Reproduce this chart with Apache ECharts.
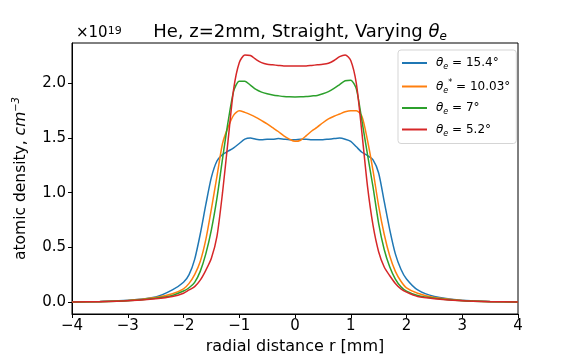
<!DOCTYPE html>
<html>
<head>
<meta charset="utf-8">
<script src="https://cdn.jsdelivr.net/npm/echarts@6/dist/echarts.min.js"></script>
<style>
  html, body { margin: 0; padding: 0; background: #fff; }
  #chart { width: 576px; height: 360px; }
</style>
</head>
<body>
<div id="chart"></div>
<script>
// radial grid (mm) shared by all curves
var radius = [-4, -3.5, -3, -2.5, -2.2, -2.0, -1.9, -1.8, -1.7, -1.6, -1.5, -1.4, -1.3, -1.2, -1.1, -1.0,
  -0.9, -0.8, -0.7, -0.6, -0.5, -0.4, -0.3, -0.2, -0.1, 0, 0.1, 0.2, 0.3, 0.4, 0.5, 0.6, 0.7, 0.8, 0.9,
  1.0, 1.1, 1.2, 1.3, 1.4, 1.5, 1.6, 1.7, 1.8, 1.9, 2.0, 2.2, 2.5, 3, 3.5, 4];

// density in units of 1e19 cm^-3
var theta154 = [0.0, 0.005, 0.015, 0.045, 0.11, 0.18, 0.25, 0.39, 0.62, 0.89, 1.14, 1.29, 1.35, 1.38, 1.41, 1.45,
  1.49, 1.50, 1.49, 1.485, 1.49, 1.49, 1.495, 1.49, 1.485, 1.485, 1.49, 1.49, 1.485, 1.485, 1.485, 1.49, 1.495, 1.50, 1.49,
  1.47, 1.42, 1.37, 1.34, 1.30, 1.18, 0.92, 0.66, 0.44, 0.30, 0.21, 0.11, 0.05, 0.015, 0.005, 0.0];
var theta1003 = [0.0, 0.004, 0.013, 0.04, 0.075, 0.12, 0.17, 0.25, 0.37, 0.57, 0.85, 1.15, 1.45, 1.60, 1.71, 1.75,
  1.735, 1.715, 1.69, 1.66, 1.63, 1.595, 1.56, 1.52, 1.49, 1.47, 1.48, 1.52, 1.565, 1.60, 1.64, 1.675, 1.70, 1.72, 1.74,
  1.75, 1.75, 1.70, 1.48, 1.20, 0.88, 0.62, 0.42, 0.28, 0.19, 0.13, 0.08, 0.04, 0.013, 0.004, 0.0];
var theta7 = [0.0, 0.003, 0.012, 0.035, 0.06, 0.10, 0.13, 0.18, 0.28, 0.44, 0.66, 0.95, 1.31, 1.65, 1.93, 2.02,
  2.02, 1.985, 1.945, 1.92, 1.905, 1.895, 1.887, 1.88, 1.877, 1.876, 1.877, 1.88, 1.885, 1.89, 1.905, 1.925, 1.955, 1.99, 2.025,
  2.03, 1.95, 1.66, 1.35, 1.05, 0.72, 0.48, 0.32, 0.21, 0.14, 0.10, 0.06, 0.035, 0.012, 0.003, 0.0];
var theta52 = [0.0, 0.003, 0.011, 0.03, 0.05, 0.08, 0.11, 0.14, 0.20, 0.29, 0.40, 0.60, 1.00, 1.48, 1.95, 2.19,
  2.26, 2.255, 2.22, 2.19, 2.175, 2.17, 2.165, 2.16, 2.16, 2.16, 2.16, 2.16, 2.165, 2.17, 2.175, 2.185, 2.21, 2.245, 2.26,
  2.21, 2.00, 1.55, 1.06, 0.70, 0.46, 0.32, 0.24, 0.17, 0.12, 0.09, 0.05, 0.03, 0.011, 0.003, 0.0];

var seriesNames = ['t154', 't1003', 't7', 't52'];
var legendLabels = {
  t154: '{i|θ}{sub|e}{n| = 15.4°}',
  t1003: '{i|θ}{sub|e}{sup|*}{n| = 10.03°}',
  t7: '{i|θ}{sub|e}{n| = 7°}',
  t52: '{i|θ}{sub|e}{n| = 5.2°}'
};
var colors = ['#1f77b4', '#ff7f0e', '#2ca02c', '#d62728'];
var yTicks = [0, 0.5, 1.0, 1.5, 2.0];

function pairs(ys) {
  var out = [];
  for (var i = 0; i < radius.length; i++) {
    out.push([radius[i], ys[i]]);
  }
  return out;
}

var allValues = [theta154, theta1003, theta7, theta52];
var series = [];
for (var k = 0; k < seriesNames.length; k++) {
  series.push({
    name: seriesNames[k],
    type: 'line',
    data: pairs(allValues[k]),
    symbol: 'none',
    smooth: 0.25,
    lineStyle: { width: 1.5, color: colors[k] },
    itemStyle: { color: colors[k] }
  });
}

var font = 'DejaVu Sans';
var chart = echarts.init(document.getElementById('chart'));
var option = {
  animation: false,
  color: colors,
  textStyle: { fontFamily: font },
  grid: {
    left: 72, right: 58, top: 43, bottom: 46,
    show: true, borderColor: '#000', borderWidth: 1
  },
  title: [
    {
      text: 'He, z=2mm, Straight, Varying {i|θ}{sub|e}',
      left: 295, top: 16, textAlign: 'center',
      textStyle: {
        fontFamily: font, fontSize: 18, fontWeight: 'normal', color: '#000',
        rich: {
          i: { fontFamily: font, fontSize: 18, fontStyle: 'italic', color: '#000', lineHeight: 22 },
          sub: { fontFamily: font, fontSize: 12, fontStyle: 'italic', color: '#000', lineHeight: 13, verticalAlign: 'bottom' }
        }
      }
    },
    {
      text: '×10{sup|19}',
      left: 71, top: 21,
      textStyle: {
        fontFamily: font, fontSize: 15, fontWeight: 'normal', color: '#000',
        rich: {
          sup: { fontFamily: font, fontSize: 11, color: '#000', verticalAlign: 'top', lineHeight: 12 }
        }
      }
    }
  ],
  legend: {
    data: seriesNames,
    orient: 'vertical',
    left: 398, top: 50,
    padding: [7, 6, 6, 4],
    icon: 'rect',
    itemWidth: 25, itemHeight: 2, itemGap: 7.5,
    backgroundColor: 'rgba(255,255,255,0.8)',
    borderColor: '#d5d5d5', borderWidth: 1, borderRadius: 3,
    formatter: function (name) { return legendLabels[name]; },
    textStyle: {
      fontFamily: font, fontSize: 12, color: '#000',
      padding: [0, 0, 0, 4],
      rich: {
        i: { fontFamily: font, fontSize: 12, fontStyle: 'italic', lineHeight: 16 },
        sub: { fontFamily: font, fontSize: 8, fontStyle: 'italic', lineHeight: 9, verticalAlign: 'bottom' },
        sup: { fontFamily: font, fontSize: 8, lineHeight: 9, verticalAlign: 'top' },
        n: { fontFamily: font, fontSize: 12, lineHeight: 16 }
      }
    }
  },
  xAxis: {
    type: 'value',
    min: -4, max: 4, interval: 1,
    name: 'radial distance r [mm]',
    nameLocation: 'middle', nameGap: 25,
    nameTextStyle: { fontFamily: font, fontSize: 16, color: '#000' },
    axisLine: { onZero: false, lineStyle: { color: '#000', width: 1 } },
    axisTick: { inside: false, length: 4, lineStyle: { color: '#000' } },
    axisLabel: {
      fontFamily: font, fontSize: 15, color: '#000', margin: 5,
      formatter: function (v) { return v < 0 ? '\u2212' + Math.abs(v) : String(v); }
    },
    splitLine: { show: false }
  },
  yAxis: {
    type: 'value',
    min: -0.11, max: 2.37,
    name: 'atomic density, {i|cm}{sup|−3}',
    nameLocation: 'middle', nameGap: 41, nameRotate: 90,
    nameTextStyle: {
      fontFamily: font, fontSize: 15.5, color: '#000',
      rich: {
        i: { fontFamily: font, fontSize: 15.5, fontStyle: 'italic', color: '#000', lineHeight: 20 },
        sup: { fontFamily: font, fontSize: 10, fontStyle: 'italic', color: '#000', lineHeight: 12, verticalAlign: 'top' }
      }
    },
    axisLine: { show: true, onZero: false, lineStyle: { color: '#000', width: 1 } },
    axisTick: { show: true, length: 4, customValues: yTicks, lineStyle: { color: '#000' } },
    axisLabel: {
      fontFamily: font, fontSize: 15, color: '#000', margin: 6,
      customValues: yTicks,
      formatter: function (v) { return v.toFixed(1); }
    },
    splitLine: { show: false }
  },
  series: series
};
chart.setOption(option);
</script>
</body>
</html>
